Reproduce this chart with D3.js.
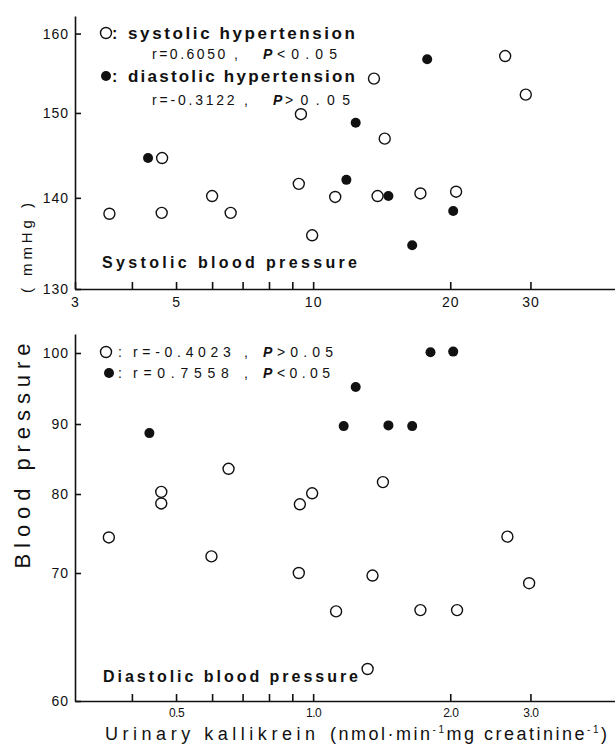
<!DOCTYPE html>
<html>
<head>
<meta charset="utf-8">
<script src="https://cdn.jsdelivr.net/npm/d3@7"></script>
<style>
  body { margin: 0; background: #fff; }
  svg { display: block; font-family: "Liberation Sans", Arial, Helvetica, sans-serif; }
  .axis path, .axis line { stroke: #111; stroke-width: 1.6; }
  .axis text { font-size: 14px; fill: #111; letter-spacing: 1px; }
  .lbl { fill: #111; }
</style>
</head>
<body>
<svg width="615" height="747"></svg>
<script>
// urinary kallikrein (x10 in the upper panel) and blood pressure
var sbpOpenKal    = [3.57, 4.65, 4.66, 6.0, 6.59, 9.3, 9.4, 9.95, 11.18, 13.6, 13.85, 14.36, 17.2, 20.6, 26.4, 29.3];
var sbpOpen       = [138.2, 138.3, 144.6, 140.2, 138.3, 141.6, 149.85, 135.8, 140.1, 154.25, 140.2, 146.9, 140.5, 140.7, 157.1, 152.25];
var sbpFilledKal  = [4.34, 11.83, 12.4, 14.63, 16.5, 17.8, 20.3];
var sbpFilled     = [144.6, 142.06, 148.8, 140.2, 134.7, 156.7, 138.5];

var dbpOpenKal    = [0.356, 0.464, 0.464, 0.598, 0.652, 0.93, 0.935, 0.995, 1.123, 1.317, 1.35, 1.423, 1.72, 2.07, 2.67, 2.98];
var dbpOpen       = [74.5, 80.3, 78.8, 72.1, 83.6, 70.0, 78.7, 80.1, 67.0, 62.5, 69.8, 81.7, 67.1, 67.1, 74.6, 69.2];
var dbpFilledKal  = [0.437, 1.167, 1.24, 1.463, 1.65, 1.81, 2.03];
var dbpFilled     = [88.7, 89.7, 95.2, 89.8, 89.7, 100.1, 100.2];

var xMajorTop = [3, 5, 10, 20, 30];
var xMinorTop = [4, 6, 7, 8, 9];
var xMajorBot = [0.5, 1, 2, 3];
var xMinorBot = [0.4, 0.6, 0.7, 0.8, 0.9];
var yTicksTop = [130, 140, 150, 160];
var yTicksBot = [60, 70, 80, 90, 100];

var svg = d3.select("svg");
var left = 75, right = 615;
var p1 = {top: 16, bottom: 289};
var p2 = {top: 334, bottom: 701};

// scales
var xTop = d3.scaleLog().domain([3, 46]).range([left, right]);
var xBot = d3.scaleLog().domain([0.3, 4.6]).range([left, right]);
var yTop = d3.scaleLog().domain([130, 162.3]).range([p1.bottom, p1.top]);
// the lower axis is drawn unevenly in the original, so a piecewise scale
var yBot = d3.scaleLinear().domain([60, 70, 80, 90, 100, 102.7]).range([p2.bottom, 573, 494, 424, 353, p2.top]);

// axes
svg.append("g").attr("class", "axis")
    .attr("transform", "translate(" + left + ",0)")
    .call(d3.axisLeft(yTop).tickValues(yTicksTop).tickFormat(d3.format("d"))
      .tickSize(-6).tickSizeOuter(0).tickPadding(6));

svg.append("g").attr("class", "axis")
    .attr("transform", "translate(0," + p1.bottom + ")")
    .call(d3.axisBottom(xTop).tickValues(xMajorTop.concat(xMinorTop))
      .tickFormat(function(d) { return xMajorTop.indexOf(d) >= 0 ? d : ""; })
      .tickSize(-7).tickSizeOuter(0).tickPadding(8));

svg.append("g").attr("class", "axis")
    .attr("transform", "translate(" + left + ",0)")
    .call(d3.axisLeft(yBot).tickValues(yTicksBot).tickFormat(d3.format("d"))
      .tickSize(-6).tickSizeOuter(0).tickPadding(6));

svg.append("g").attr("class", "axis xbot")
    .attr("transform", "translate(0," + p2.bottom + ")")
    .call(d3.axisBottom(xBot).tickValues(xMajorBot.concat(xMinorBot))
      .tickFormat(function(d) { return xMajorBot.indexOf(d) >= 0 ? d3.format(".1f")(d) : ""; })
      .tickSize(-7).tickSizeOuter(0).tickPadding(7));

svg.selectAll(".xbot text").style("font-size", "12px").style("letter-spacing", "-0.5px");

// points
function dots(kal, bp, x, y, filled) {
  svg.append("g").selectAll("circle")
    .data(d3.zip(kal, bp))
    .enter().append("circle")
      .attr("cx", function(d) { return x(d[0]); })
      .attr("cy", function(d) { return y(d[1]); })
      .attr("r", filled ? 5 : 5.5)
      .attr("fill", filled ? "#111" : "#fff")
      .attr("stroke", "#111")
      .attr("stroke-width", filled ? 0 : 1.4);
}
dots(sbpOpenKal, sbpOpen, xTop, yTop, false);
dots(sbpFilledKal, sbpFilled, xTop, yTop, true);
dots(dbpOpenKal, dbpOpen, xBot, yBot, false);
dots(dbpFilledKal, dbpFilled, xBot, yBot, true);

// legends and labels
function label(x, y, str, size, width, weight) {
  var t = svg.append("text").attr("class", "lbl")
    .attr("x", x).attr("y", y)
    .style("font-size", size + "px")
    .style("font-weight", weight || "normal")
    .text(str);
  if (width) t.attr("textLength", width).attr("lengthAdjust", "spacing");
  return t;
}
function key(x, y, filled) {
  svg.append("circle").attr("cx", x).attr("cy", y).attr("r", filled ? 5 : 5.5)
    .attr("fill", filled ? "#111" : "#fff").attr("stroke", "#111")
    .attr("stroke-width", filled ? 0 : 1.4);
}
function italicP(x, y) {
  label(x, y, "P", 14, null, "bold").style("font-style", "italic");
}

key(106, 33, false);
label(112, 39, ":", 16, null, "bold");
label(128, 39, "systolic hypertension", 17, 227, "bold");
label(152, 59, "r=0.6050 ,", 14, 86);
italicP(263, 59);
label(277, 59, "<0.05", 14, 60);
key(106, 76, true);
label(112, 82, ":", 16, null, "bold");
label(128, 82, "diastolic hypertension", 17, 227, "bold");
label(152, 105, "r=-0.3122 ,", 14, 96);
italicP(273, 105);
label(285, 105, ">0.05", 14, 65);
label(102, 268, "Systolic blood   pressure", 16, 255, "bold");

key(106, 352, false);
label(118, 357, ":", 14);
label(133, 357, "r=-0.4023 ,", 14, 115);
italicP(263, 357);
label(277, 357, ">0.05", 14, 56);
key(109, 373, true);
label(118, 378, ":", 14);
label(133, 378, "r=0.7558 ,", 14, 115);
italicP(263, 378);
label(277, 378, "<0.05", 14, 53);
label(103, 682, "Diastolic blood pressure", 16, 255, "bold");

// axis titles
svg.append("text").attr("class", "lbl")
    .attr("transform", "translate(32,248) rotate(-90)")
    .attr("text-anchor", "middle")
    .style("font-size", "15px")
    .attr("textLength", 90).attr("lengthAdjust", "spacing")
    .text("( mmHg )");

svg.append("text").attr("class", "lbl")
    .attr("transform", "translate(30,456) rotate(-90)")
    .attr("text-anchor", "middle")
    .style("font-size", "22px")
    .attr("textLength", 225).attr("lengthAdjust", "spacing")
    .text("Blood  pressure");

label(105, 740, "Urinary kallikrein", 18, 210);
var unit = svg.append("text").attr("class", "lbl")
    .attr("x", 330).attr("y", 740)
    .style("font-size", "18px")
    .attr("textLength", 277).attr("lengthAdjust", "spacing");
unit.append("tspan").text("(nmol·min");
unit.append("tspan").attr("dy", -7).style("font-size", "10px").text("-1");
unit.append("tspan").attr("dy", 7).text("mg creatinine");
unit.append("tspan").attr("dy", -7).style("font-size", "10px").text("-1");
unit.append("tspan").attr("dy", 7).text(")");
</script>
</body>
</html>
